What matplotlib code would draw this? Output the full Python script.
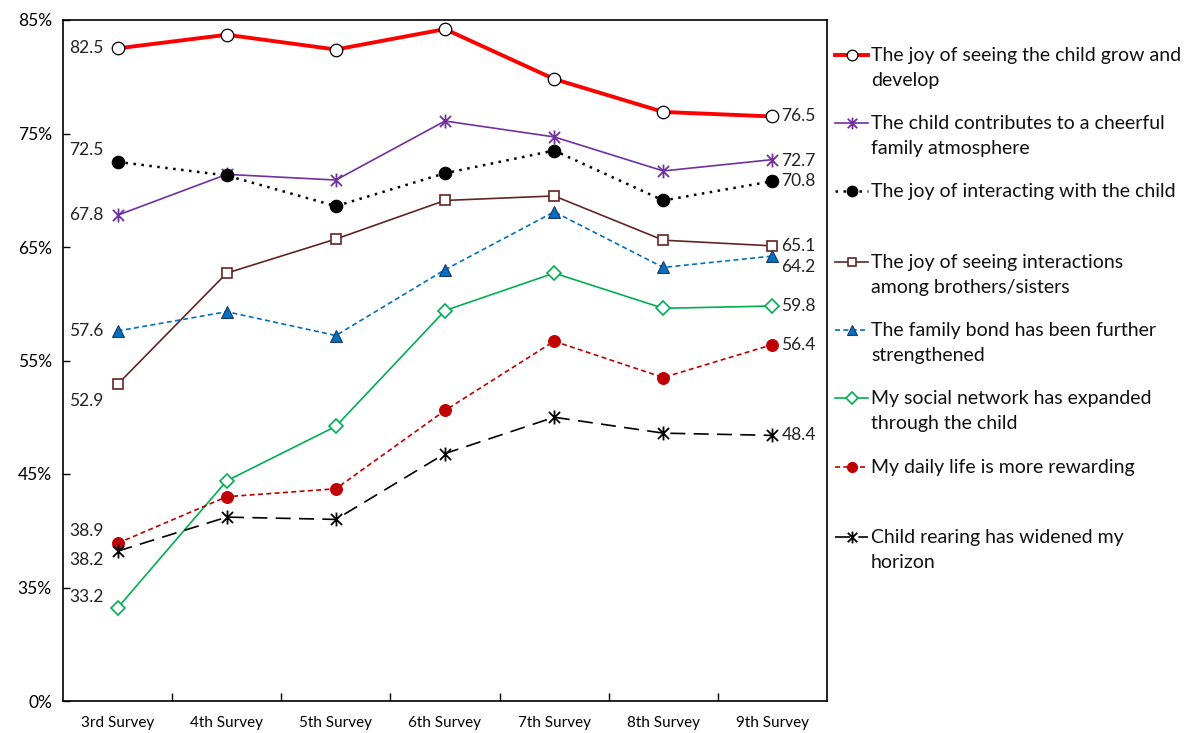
import matplotlib
matplotlib.use("Agg")
import matplotlib.pyplot as plt
from matplotlib.lines import Line2D
from matplotlib.path import Path
import numpy as np

plt.rcParams['font.family'] = ['Lato', 'DejaVu Sans']

surveys = ["3rd Survey", "4th Survey", "5th Survey", "6th Survey", "7th Survey", "8th Survey", "9th Survey"]

joy_grow = [82.5, 83.7, 82.4, 84.2, 79.8, 76.9, 76.5]
cheerful = [67.8, 71.4, 70.9, 76.1, 74.7, 71.7, 72.7]
interacting = [72.5, 71.3, 68.6, 71.5, 73.5, 69.1, 70.8]
siblings = [52.9, 62.7, 65.7, 69.1, 69.5, 65.6, 65.1]
family_bond = [57.6, 59.3, 57.2, 63.0, 68.1, 63.2, 64.2]
social = [33.2, 44.4, 49.2, 59.4, 62.7, 59.6, 59.8]
daily_life = [38.9, 43.0, 43.7, 50.6, 56.7, 53.5, 56.4]
horizon = [38.2, 41.2, 41.0, 46.8, 50.0, 48.6, 48.4]

labels = [
    "The joy of seeing the child grow and\ndevelop",
    "The child contributes to a cheerful\nfamily atmosphere",
    "The joy of interacting with the child",
    "The joy of seeing interactions\namong brothers/sisters",
    "The family bond has been further\nstrengthened",
    "My social network has expanded\nthrough the child",
    "My daily life is more rewarding",
    "Child rearing has widened my\nhorizon",
]

ytick_vals = [25, 35, 45, 55, 65, 75, 85]
ytick_labels = ["0%", "35%", "45%", "55%", "65%", "75%", "85%"]

star = Path([(-0.8, -0.8), (0.8, 0.8), (-0.8, 0.8), (0.8, -0.8), (0, -1), (0, 1)],
            [Path.MOVETO, Path.LINETO, Path.MOVETO, Path.LINETO, Path.MOVETO, Path.LINETO])
styles = [
    dict(color="#FF0000", lw=2.8, ls="-", marker="o", mfc="white", mec="#000000", ms=9, mew=0.9),
    dict(color="#7030A0", lw=1.2, ls="-", marker=star, mfc="none", mec="#7030A0", ms=10, mew=1.3),
    dict(color="#000000", lw=1.8, ls=(0, (1, 2.2)), marker="o", mfc="#000000", mec="#000000", ms=9, mew=0.8),
    dict(color="#632523", lw=1.2, ls="-", marker="s", mfc="white", mec="#632523", ms=7.5, mew=1.2),
    dict(color="#0070C0", lw=1.2, ls=(0, (3, 2)), marker="^", mfc="#0070C0", mec="#1F3864", ms=9, mew=0.8),
    dict(color="#00B050", lw=1.2, ls="-", marker="D", mfc="white", mec="#00B050", ms=7, mew=1.2),
    dict(color="#C00000", lw=1.2, ls=(0, (3, 2)), marker="o", mfc="#C00000", mec="#C00000", ms=8.5, mew=0.8),
    dict(color="#000000", lw=1.2, ls=(0, (9, 5)), marker=star, mfc="none", mec="#000000", ms=10, mew=1.3),
]
series = [joy_grow, cheerful, interacting, siblings, family_bond, social, daily_life, horizon]

# label offsets (pixels): first point (dx, dy), last point (dx, dy)
first_off = [(0, 0), (0, 0), (0, 12), (0, -17), (0, 0), (0, 11), (0, 12), (0, -9)]
last_off = [(0, 0), (0, -1), (0, 0), (0, 0), (0, -11), (0, 0), (0, 0), (0, 0)]

W, H = 1195, 733
fig = plt.figure(figsize=(W / 100, H / 100), dpi=100)
ax = fig.add_axes([63 / W, 32 / H, (827 - 63) / W, (701 - 20) / H])

x = np.arange(len(surveys))
for vals, st, fo, lo in zip(series, styles, first_off, last_off):
    ax.plot(x, vals, color=st["color"], lw=st["lw"], ls=st["ls"], marker=st["marker"],
            mfc=st["mfc"], mec=st["mec"], ms=st["ms"], mew=st["mew"], clip_on=False, zorder=3)
    ax.annotate(f"{vals[0]:.1f}", (x[0], vals[0]), xytext=(-14 + fo[0], fo[1]),
                textcoords="offset pixels", ha="right", va="center", fontsize=12.5, color="#222222")
    ax.annotate(f"{vals[-1]:.1f}", (x[-1], vals[-1]), xytext=(9 + lo[0], lo[1]),
                textcoords="offset pixels", ha="left", va="center", fontsize=12.5, color="#222222")

ax.set_xlim(-0.5, len(surveys) - 0.5)
ax.set_ylim(25, 85)
ax.set_yticks(ytick_vals)
ax.set_yticklabels(ytick_labels, fontsize=12.5)
ax.set_xticks(x)
ax.set_xticklabels(surveys, fontsize=11)
ax.set_xticks(np.arange(0.5, len(surveys) - 0.5, 1), minor=True)
ax.tick_params(axis="x", which="major", length=0, pad=11)
ax.tick_params(axis="x", which="minor", length=6, direction="in", width=1)
ax.tick_params(axis="y", which="major", length=5, direction="in", width=1, pad=8)
for sp in ax.spines.values():
    sp.set_linewidth(1.2)
    sp.set_color("black")

# legend drawn manually
leg_y = [55, 123, 191, 262, 330, 398, 467, 537]
for yy, st, lab in zip(leg_y, styles, labels):
    fy = 1 - yy / H
    fig.add_artist(Line2D([835 / W, 868 / W], [fy, fy], transform=fig.transFigure,
                          color=st["color"], lw=st["lw"], ls=st["ls"]))
    fig.add_artist(Line2D([851.5 / W], [fy], transform=fig.transFigure,
                          marker=st["marker"], mfc=st["mfc"], mec=st["mec"],
                          ms=st["ms"] * 0.85, mew=st["mew"], ls="none"))
    fig.text(871 / W, fy + 8 / H, lab, ha="left", va="top", fontsize=14,
             linespacing=1.55, color="#111111")

fig.savefig("out.png", dpi=100)
